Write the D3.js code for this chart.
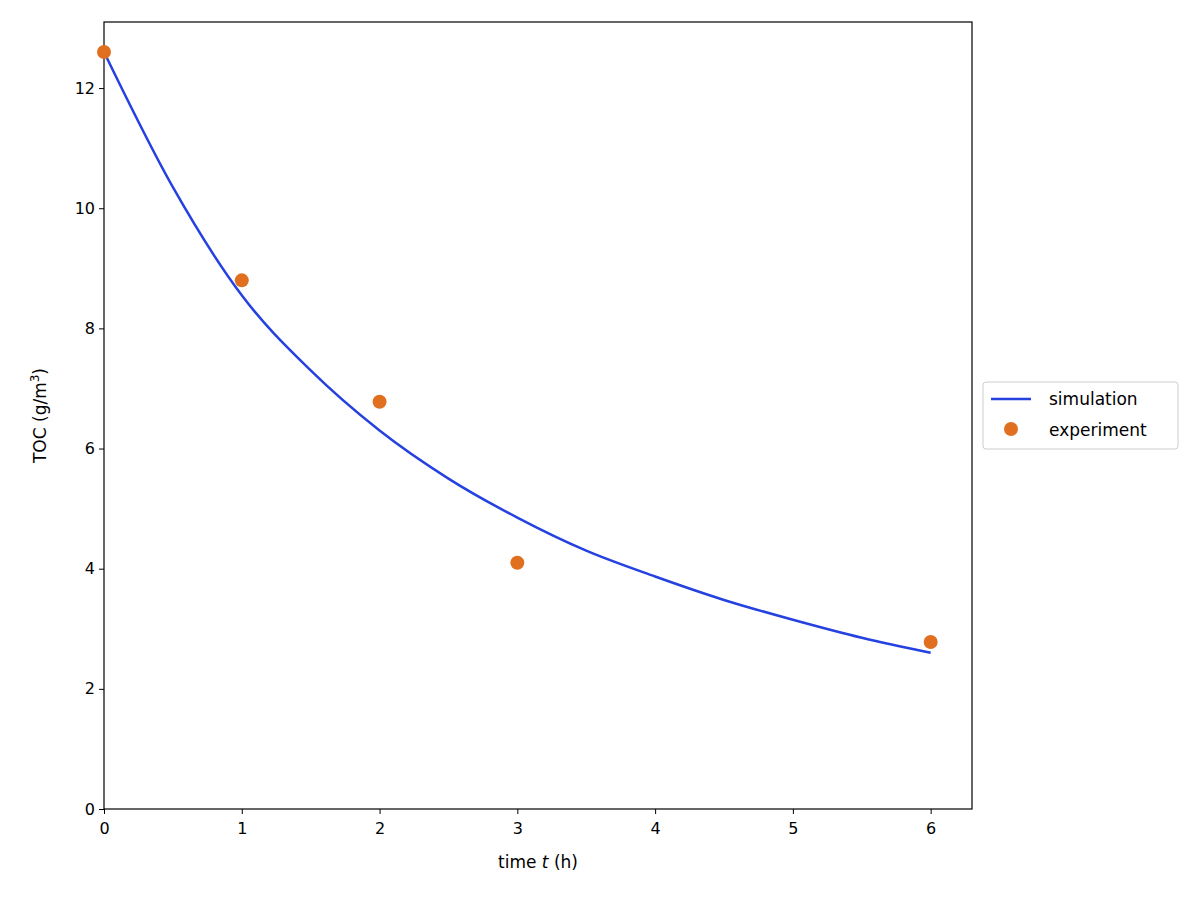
<!DOCTYPE html>
<html><head><meta charset="utf-8">
<script src="https://cdn.jsdelivr.net/npm/d3@7"></script>
<style>body{margin:0;background:#fff}text{font-family:"DejaVu Sans",sans-serif}</style>
</head><body><svg id="c" width="1200" height="900"></svg>
<script>
const simT = [0,0.5,1,1.5,2,2.5,3,3.5,4,4.5,5,5.5,6];
const simY = [12.6,10.35,8.55,7.3,6.3,5.5,4.85,4.3,3.87,3.48,3.15,2.85,2.6];
const expT = [0,1,2,3,6];
const expY = [12.6,8.8,6.78,4.1,2.78];
const xTicks = [0,1,2,3,4,5,6];
const yTicks = [0,2,4,6,8,10,12];

const svg = d3.select("#c");
const L=104,R=972,T=22,B=809;
const x = d3.scaleLinear().domain([0,6.3]).range([L,R]);
const y = d3.scaleLinear().domain([0,13.1]).range([B,T]);

const gx = svg.append("g").attr("transform",`translate(0,${B})`).call(d3.axisBottom(x).tickValues(xTicks).tickFormat(d3.format("d")).tickSizeOuter(0));
const gy = svg.append("g").attr("transform",`translate(${L},0)`).call(d3.axisLeft(y).tickValues(yTicks).tickFormat(d3.format("d")).tickSizeOuter(0));
[gx,gy].forEach(g=>{g.select(".domain").remove();g.selectAll("text").attr("font-size",16).attr("fill","#000");g.selectAll("line").attr("stroke","#000").attr("stroke-width",1);});
gx.selectAll("line").attr("y2",5); gx.selectAll("text").attr("dy","1.0em");
gy.selectAll("line").attr("x2",-5);
svg.append("rect").attr("x",L).attr("y",T).attr("width",R-L).attr("height",B-T).attr("fill","none").attr("stroke","#000").attr("stroke-width",1.2);

const line = d3.line().x((d,i)=>x(simT[i])).y(d=>y(d)).curve(d3.curveMonotoneX);
svg.append("path").attr("d",line(simY)).attr("fill","none").attr("stroke","#2541e0").attr("stroke-width",2.5);
svg.selectAll("circle.e").data(expY).enter().append("circle").attr("cx",(d,i)=>x(expT[i])).attr("cy",d=>y(d)).attr("r",7).attr("fill","#e07020");

const xl = svg.append("text").attr("x",(L+R)/2).attr("y",868).attr("text-anchor","middle").attr("font-size",17);
xl.append("tspan").text("time ");xl.append("tspan").attr("font-style","italic").text("t");xl.append("tspan").text(" (h)");
const yl = svg.append("text").attr("transform",`translate(46,${(T+B)/2}) rotate(-90)`).attr("text-anchor","middle").attr("font-size",17);
yl.append("tspan").text("TOC (g/m");yl.append("tspan").attr("font-size",12).attr("dy",-7).text("3");yl.append("tspan").attr("dy",7).text(")");

const lg = svg.append("g");
lg.append("rect").attr("x",983).attr("y",382).attr("width",195).attr("height",67).attr("rx",3).attr("fill","#fff").attr("stroke","#ccc");
lg.append("line").attr("x1",991).attr("x2",1031).attr("y1",399).attr("y2",399).attr("stroke","#2541e0").attr("stroke-width",2.5);
lg.append("circle").attr("cx",1011).attr("cy",429).attr("r",7).attr("fill","#e07020");
lg.append("text").attr("x",1049).attr("y",405).attr("font-size",17).text("simulation");
lg.append("text").attr("x",1049).attr("y",436).attr("font-size",17).text("experiment");
</script></body></html>
